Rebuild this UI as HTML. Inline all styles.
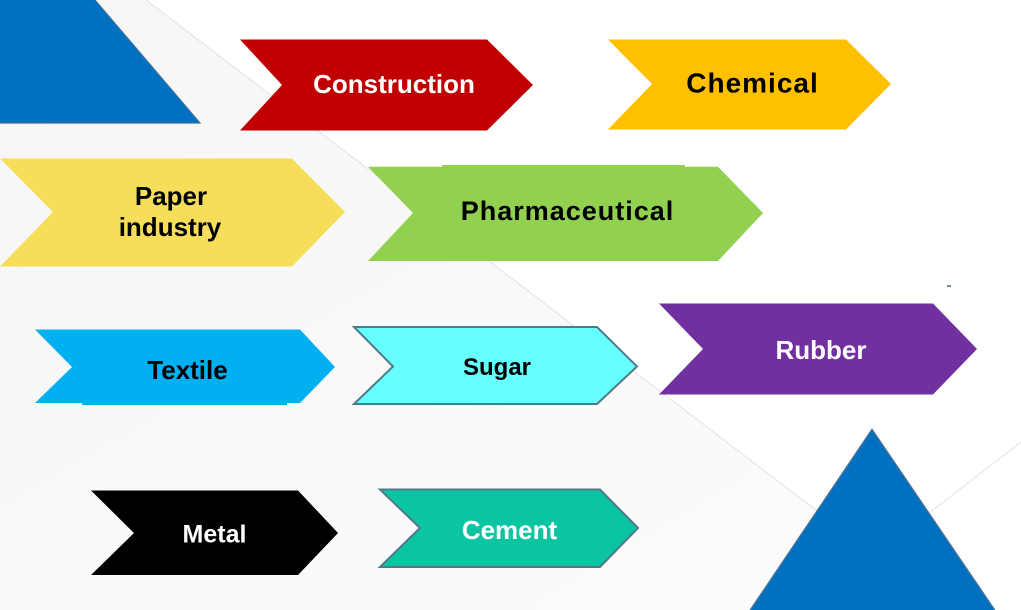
<!DOCTYPE html>
<html>
<head>
<meta charset="utf-8">
<style>
  html, body { margin: 0; padding: 0; background: #ffffff; }
  body { width: 1021px; height: 610px; overflow: hidden; }
  svg { display: block; }
  text { font-family: "Liberation Sans", "DejaVu Sans", sans-serif; font-weight: bold; }
</style>
</head>
<body>
<svg width="1021" height="610" viewBox="0 0 1021 610" xmlns="http://www.w3.org/2000/svg">
  <defs>
    <linearGradient id="bg" x1="0" y1="0" x2="1" y2="1">
      <stop offset="0" stop-color="#f6f6f6"/>
      <stop offset="0.5" stop-color="#f9f9f9"/>
      <stop offset="1" stop-color="#fcfcfc"/>
    </linearGradient>
  </defs>

  <!-- background -->
  <rect x="0" y="0" width="1021" height="610" fill="url(#bg)"/>
  <polygon points="146,0 1021,0 1021,610 996,610 875,555" fill="#ffffff"/>
  <line x1="146" y1="0" x2="875" y2="555" stroke="#e2e2e2" stroke-width="1"/>
  <line x1="1021" y1="442" x2="875" y2="555" stroke="#e2e2e2" stroke-width="1"/>
  <rect x="947" y="285" width="4" height="2" fill="#6f8fa8"/>

  <!-- top-left blue trapezoid -->
  <polygon points="0,0 95,0 200,123 0,123" fill="#0070C0"/>
  <polyline points="95,0 200,123 0,123" fill="none" stroke="#41719C" stroke-width="1.2"/>

  <!-- Construction -->
  <polygon points="240,39.5 487,39.5 533,85 487,130.5 240,130.5 282,85" fill="#C00000"/>
  <text x="394" y="93" font-size="26" fill="#ffffff" text-anchor="middle">Construction</text>

  <!-- Chemical -->
  <polygon points="608,39.5 846,39.5 891,84 846,129.5 608,129.5 652,84" fill="#FFC000"/>
  <text x="752" y="92.5" font-size="28" fill="#000000" text-anchor="middle" letter-spacing="1" dx="0.5">Chemical</text>

  <!-- Paper industry -->
  <polygon points="0,158.5 292,158.5 345,212 292,266.5 0,266.5 53,212" fill="#F6DE5B"/>
  <text x="171" y="205" font-size="26" fill="#000000" text-anchor="middle">Paper</text>
  <text x="170" y="236" font-size="26" fill="#000000" text-anchor="middle">industry</text>

  <!-- Pharmaceutical -->
  <polygon points="368,166.7 718,166.7 763,213 718,261 368,261 413,213" fill="#92D050"/>
  <rect x="442" y="165" width="243" height="3" fill="#92D050"/>
  <text x="567" y="220" font-size="27" fill="#000000" text-anchor="middle" letter-spacing="1" dx="0.5">Pharmaceutical</text>

  <!-- Textile -->
  <polygon points="35,329.5 300,329.5 335,367 300,403 35,403 72,367" fill="#00B0F0"/>
  <rect x="82" y="402" width="205" height="3" fill="#00B0F0"/>
  <text x="187.5" y="379" font-size="26" fill="#000000" text-anchor="middle">Textile</text>

  <!-- Sugar -->
  <polygon points="354,327 597,327 637,366.5 597,404 354,404 393,366.5" fill="#66FFFF" stroke="#4F7A87" stroke-width="2" stroke-linejoin="miter"/>
  <text x="497" y="375" font-size="24" fill="#000000" text-anchor="middle">Sugar</text>

  <!-- Rubber -->
  <polygon points="659,303.5 933,303.5 977,349 933,394.5 659,394.5 703,349" fill="#7030A0"/>
  <text x="821" y="359" font-size="26" fill="#ffffff" text-anchor="middle">Rubber</text>

  <!-- Metal -->
  <polygon points="91,490.5 298,490.5 338,533 298,575 91,575 134,533" fill="#000000"/>
  <text x="214.5" y="542.5" font-size="25" fill="#ffffff" text-anchor="middle">Metal</text>

  <!-- Cement -->
  <polygon points="380,489.5 600,489.5 638,528 600,567 380,567 420,528" fill="#0AC4A2" stroke="#4F7A87" stroke-width="2"/>
  <text x="509.5" y="539" font-size="26" fill="#ffffff" text-anchor="middle">Cement</text>

  <!-- bottom-right blue triangle -->
  <polygon points="872,429.5 996,612 749,612" fill="#0070C0" stroke="#41719C" stroke-width="1.5"/>
</svg>
</body>
</html>
